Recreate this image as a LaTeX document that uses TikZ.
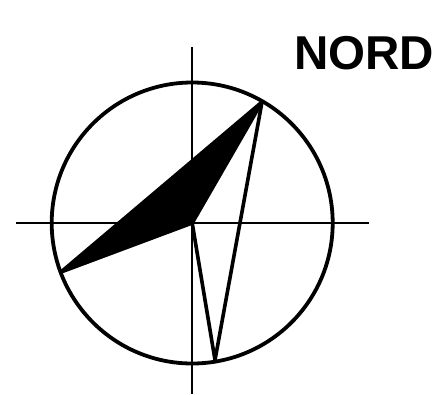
\documentclass[tikz,border=0pt]{standalone}
\usepackage{fontspec}
\setmainfont{Liberation Sans}
\usetikzlibrary{positioning,calc}
\begin{document}
\begin{tikzpicture}[
  x=1pt,y=-1pt,
  axisline/.style={draw=black,line width=2pt},
  ring/.style={draw=black,line width=3.8pt},
  needle/.style={draw=black,line width=3.6pt,line join=round},
  title/.style={font=\fontsize{47.5pt}{50pt}\selectfont\bfseries,inner sep=0pt,anchor=base}
]
\useasboundingbox (0,0) rectangle (443,394);
\coordinate (c) at (192.2,223);
\coordinate (ne) at (262,102);
\coordinate (sw) at (61,272);
\coordinate (s) at (215,360);
\coordinate (n1) at (192.2,47);
\coordinate (s1) at (192.2,394);
\coordinate (w1) at (16,223);
\coordinate (e1) at (369,223);
\draw[axisline] (n1)--(s1);
\draw[axisline] (w1)--(e1);
\draw[ring] (c) circle[radius=140.5];
\draw[needle,fill=black] (c)--(ne)--(sw)--cycle;
\draw[needle] (c)--(s)--(ne);
\node[title] (nord) at (364,69.5) {NORD};
\end{tikzpicture}
\end{document}
